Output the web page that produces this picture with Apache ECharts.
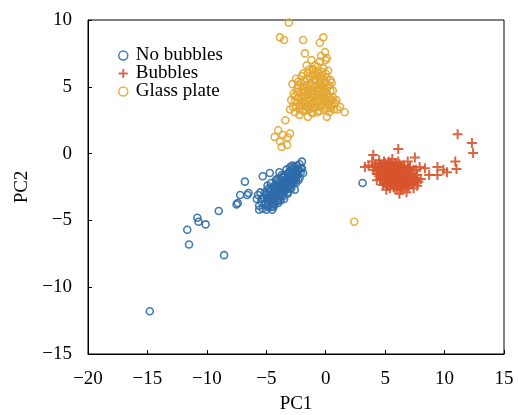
<!DOCTYPE html>
<html>
<head>
<meta charset="utf-8">
<script src="https://cdn.jsdelivr.net/npm/echarts@6/dist/echarts.min.js"></script>
<style>
  html, body { margin: 0; padding: 0; background: #fff; }
  #chart { width: 518px; height: 415px; }
</style>
</head>
<body>
<div id="chart"></div>
<script>
// 三组样本的主成分得分 [PC1, PC2]
const seriesNames = ['No bubbles', 'Bubbles', 'Glass plate']
const xTicks = [-20, -15, -10, -5, 0, 5, 10, 15]
const yTicks = [-15, -10, -5, 0, 5, 10]

// No bubbles: 密集的核心 + 离群点
const noBubblesCore = [
  [-5.6, -3.9], [-5.4, -3.6], [-5.3, -4.1], [-5.2, -3.3], [-5.1, -3.8], [-5.0, -4.2], [-4.9, -3.5],
  [-4.8, -3.1], [-4.8, -3.9], [-4.7, -2.8], [-4.6, -3.4], [-4.6, -4.0], [-4.5, -3.0], [-4.5, -3.7],
  [-4.4, -2.6], [-4.4, -3.3], [-4.3, -2.9], [-4.3, -3.8], [-4.2, -2.4], [-4.2, -3.2], [-4.1, -2.7],
  [-4.1, -3.5], [-4.0, -2.2], [-4.0, -3.0], [-3.9, -2.5], [-3.9, -3.3], [-3.8, -2.0], [-3.8, -2.8],
  [-3.7, -2.3], [-3.7, -3.1], [-3.6, -1.8], [-3.6, -2.6], [-3.5, -2.1], [-3.5, -2.9], [-3.4, -1.6],
  [-3.4, -2.4], [-3.3, -1.9], [-3.3, -2.7], [-3.2, -1.5], [-3.2, -2.2], [-3.1, -1.8], [-3.1, -2.5],
  [-3.0, -1.3], [-3.0, -2.0], [-2.9, -1.6], [-2.9, -2.3], [-2.8, -1.1], [-2.8, -1.9], [-2.7, -1.4],
  [-2.6, -1.0], [-2.6, -1.7], [-2.5, -1.3], [-2.4, -0.9], [-2.4, -1.6], [-2.3, -1.2], [-2.2, -0.8],
  [-2.1, -1.4], [-2.0, -0.6], [-1.9, -1.45], [-2.6, -2.7], [-2.8, -0.9], [-4.7, -1.45], [-5.3, -1.7],
  [-4.4, -4.0], [-5.8, -3.4], [-5.5, -2.9], [-3.0, -2.6], [-3.9, -1.4], [-4.1, -1.9], [-4.9, -2.4],
  [-5.1, -2.9], [-3.5, -3.4], [-4.0, -3.7], [-2.3, -2.0], [-2.0, -1.1], [-3.3, -1.2], [-4.6, -2.2],
  [-5.7, -3.1], [-5.0, -3.0], [-4.2, -2.0], [-3.7, -1.6], [-3.0, -1.0], [-2.7, -2.2], [-3.2, -3.0],
  [-3.8, -3.5], [-4.5, -4.2], [-5.6, -4.2], [-4.8, -2.6], [-3.6, -2.2], [-2.5, -1.9], [-4.3, -3.4],
  [-5.1, -3.7], [-4.9, -4.0], [-5.4, -3.4], [-4.7, -3.4], [-4.4, -3.8], [-5.0, -3.1], [-4.4, -3.5],
  [-4.0, -3.5], [-4.7, -2.7], [-4.3, -3.1], [-4.0, -3.1], [-4.3, -2.8], [-3.8, -2.6], [-3.6, -3.2],
  [-4.3, -2.4], [-3.6, -2.8], [-3.2, -2.9], [-4.0, -2.0], [-3.4, -2.3], [-3.3, -2.5], [-3.6, -2.1],
  [-3.2, -2.1], [-2.9, -2.6], [-3.6, -1.7], [-3.0, -1.9], [-2.8, -2.2], [-3.2, -1.8], [-2.8, -1.8],
  [-2.5, -2.2], [-3.1, -1.4], [-2.6, -1.6], [-2.5, -1.8], [-2.8, -1.4], [-2.4, -1.5], [-2.2, -1.8],
  [-2.7, -1.2], [-2.3, -1.3], [-2.1, -1.1], [-3.9, -2.8], [-4.2, -2.7], [-3.5, -2.6], [-3.0, -2.3],
  [-4.6, -3.2], [-4.9, -3.3], [-3.8, -2.3], [-3.4, -2.0], [-2.9, -2.0]
]
const noBubblesOut = [
  [-14.8, -11.8], [-8.55, -7.6], [-11.5, -6.8], [-11.65, -5.7], [-10.8, -4.8], [-10.7, -5.1],
  [-10.1, -5.3], [-9.0, -4.3], [-7.5, -3.8], [-7.2, -3.1], [-6.6, -3.1], [-6.8, -2.1], [-7.4, -3.7],
  [-6.5, -2.95], [3.1, -2.2]
]

// Bubbles
const bubblesCore = [
  [3.6, -0.9], [3.9, -0.6], [4.0, -1.2], [4.2, -0.8], [4.3, -1.5], [4.4, -1.0], [4.5, -0.5],
  [4.6, -1.3], [4.6, -1.9], [4.7, -0.9], [4.8, -1.6], [4.9, -1.1], [4.9, -2.2], [5.0, -0.7],
  [5.0, -1.4], [5.1, -1.8], [5.2, -1.0], [5.2, -2.4], [5.3, -1.5], [5.3, -0.6], [5.4, -2.0],
  [5.4, -1.2], [5.5, -1.7], [5.5, -0.9], [5.6, -2.3], [5.6, -1.4], [5.7, -1.0], [5.7, -1.9],
  [5.8, -2.6], [5.8, -1.5], [5.9, -0.8], [5.9, -2.1], [6.0, -1.2], [6.0, -1.7], [6.1, -2.4],
  [6.1, -0.6], [6.2, -1.4], [6.2, -2.0], [6.3, -1.0], [6.3, -2.7], [6.4, -1.6], [6.4, -2.2],
  [6.5, -1.2], [6.5, -1.9], [6.6, -2.5], [6.6, -0.9], [6.7, -1.5], [6.8, -2.1], [6.8, -2.9],
  [6.9, -1.3], [7.0, -1.8], [7.0, -2.4], [7.1, -1.0], [7.2, -2.0], [7.3, -1.5], [7.4, -2.6],
  [7.5, -1.8], [7.6, -1.2], [7.8, -2.1], [7.5, -0.3], [6.1, 0.35], [4.0, -0.1], [3.3, -1.0],
  [4.8, -2.35], [7.9, -1.0], [5.1, -2.7], [6.2, -3.0], [5.6, -0.4], [4.3, -2.0], [7.7, -2.4],
  [6.9, -0.6], [5.3, -2.0], [5.9, -1.3], [6.0, -2.2], [5.5, -1.1], [6.4, -1.0], [4.7, -1.6],
  [5.8, -1.8], [6.6, -1.7], [5.2, -1.3], [6.3, -2.3],
  [4.1, -1.0], [4.3, -1.3], [4.5, -1.7], [4.5, -0.8], [4.7, -1.2], [4.8, -2.0], [4.9, -0.6],
  [5.0, -1.6], [5.1, -1.1], [5.1, -2.1], [5.2, -0.8], [5.3, -1.8], [5.4, -1.4], [5.4, -2.6],
  [5.5, -0.7], [5.5, -2.1], [5.6, -1.7], [5.7, -1.2], [5.7, -2.5], [5.8, -0.9], [5.8, -2.0],
  [5.9, -1.6], [6.0, -1.0], [6.0, -2.6], [6.1, -1.4], [6.1, -1.9], [6.2, -0.8], [6.3, -1.7],
  [6.3, -1.2], [6.4, -2.5], [6.5, -1.5], [6.5, -2.1], [6.6, -1.1], [6.7, -1.9], [6.7, -2.3],
  [6.8, -1.4], [6.9, -1.7], [6.9, -2.6], [7.0, -1.1], [7.1, -2.1], [7.2, -1.6], [7.3, -2.3],
  [7.4, -1.2], [7.4, -1.9], [7.6, -2.0], [7.7, -1.6], [4.4, -1.5], [4.9, -1.3], [5.2, -1.6],
  [5.6, -1.1], [6.2, -1.6], [6.6, -1.4], [5.9, -2.4], [5.0, -1.9]
]
const bubblesOut = [
  [11.1, 1.45], [12.3, 0.8], [12.4, 0.05], [10.9, -0.6], [11.0, -1.15], [10.2, -1.4], [9.4, -1.0],
  [9.4, -1.6], [8.7, -1.6], [8.35, -1.1], [8.0, -1.9], [9.9, -1.2]
]

// Glass plate
const glassCore = [
  [-2.8, 5.2], [-2.7, 4.5], [-2.6, 3.9], [-2.5, 5.6], [-2.4, 4.9], [-2.3, 4.2], [-2.2, 3.6],
  [-2.1, 5.3], [-2.0, 4.6], [-1.9, 6.0], [-1.9, 3.9], [-1.8, 5.0], [-1.7, 4.3], [-1.7, 3.3],
  [-1.6, 5.6], [-1.5, 4.8], [-1.5, 3.7], [-1.4, 6.3], [-1.4, 4.1], [-1.3, 5.3], [-1.2, 4.5],
  [-1.2, 3.1], [-1.1, 5.9], [-1.1, 3.8], [-1.0, 5.0], [-1.0, 4.2], [-0.9, 6.6], [-0.9, 3.5],
  [-0.8, 5.5], [-0.8, 4.7], [-0.7, 6.1], [-0.7, 3.9], [-0.6, 5.2], [-0.6, 4.4], [-0.5, 6.9],
  [-0.5, 3.2], [-0.4, 5.8], [-0.4, 4.0], [-0.3, 5.0], [-0.3, 4.6], [-0.2, 6.4], [-0.2, 3.6],
  [-0.1, 5.4], [-0.1, 4.2], [0.0, 6.0], [0.0, 4.8], [0.1, 3.4], [0.1, 5.7], [0.2, 4.4],
  [0.3, 5.1], [0.3, 3.9], [0.4, 4.7], [0.5, 3.6], [0.6, 4.2], [0.7, 3.3], [0.8, 3.8], [1.0, 3.3],
  [-2.9, 4.0], [-3.0, 3.3], [-2.6, 3.1], [-2.2, 2.9], [-1.6, 6.6], [-1.2, 7.0], [-0.4, 7.3],
  [0.0, 7.0], [-2.0, 5.8], [-1.3, 3.5], [-0.7, 5.8], [-1.8, 4.6], [-2.4, 3.8], [-0.2, 5.6],
  [-1.0, 6.3], [0.5, 5.3], [-1.6, 4.0], [-2.3, 5.1], [-0.5, 4.9], [-1.1, 4.7], [0.2, 6.2],
  [-2.6, 4.3], [-2.5, 3.5], [-2.4, 4.6], [-2.3, 5.4], [-2.2, 3.3], [-2.1, 4.0], [-2.0, 5.0],
  [-1.9, 4.3], [-1.9, 3.2], [-1.8, 5.4], [-1.8, 3.8], [-1.7, 4.7], [-1.6, 3.5], [-1.6, 5.1],
  [-1.5, 4.4], [-1.5, 6.0], [-1.4, 3.3], [-1.4, 4.8], [-1.3, 5.7], [-1.3, 4.0], [-1.2, 5.1],
  [-1.2, 3.7], [-1.1, 4.4], [-1.1, 6.3], [-1.0, 3.4], [-1.0, 5.5], [-0.9, 4.5], [-0.9, 5.9],
  [-0.8, 3.7], [-0.8, 5.1], [-0.7, 4.3], [-0.7, 6.5], [-0.6, 3.5], [-0.6, 4.8], [-0.5, 5.5],
  [-0.5, 4.1], [-0.4, 3.6], [-0.4, 5.2], [-0.3, 4.3], [-0.3, 6.1], [-0.2, 3.9], [-0.2, 5.0],
  [-0.1, 4.6], [-0.1, 3.3], [0.0, 5.3], [0.0, 4.0], [0.1, 4.5], [0.2, 3.7], [0.2, 5.0],
  [0.3, 4.2], [0.4, 3.4], [0.4, 5.5], [0.5, 4.0], [0.6, 4.7], [0.7, 3.7], [0.9, 4.0],
  [-1.1, 3.0], [-0.7, 3.1], [0.3, 3.1], [-2.0, 3.6]
]
const glassOut = [
  [-3.1, 9.8], [-3.85, 8.7], [-3.5, 8.5], [-1.9, 8.5], [-0.2, 8.7], [-0.5, 8.3], [-1.75, 7.5],
  [-0.06, 7.6], [0.1, 7.15], [1.6, 3.1], [1.2, 3.5], [-2.75, 3.5], [-1.5, 2.75], [0.1, 2.75],
  [-3.4, 2.5], [-4.0, 1.75], [-4.3, 1.25], [-3.6, 1.4], [-3.2, 1.2], [-3.85, 0.9], [-3.25, 0.65],
  [-3.7, 0.5], [-3.0, 1.5], [2.4, -5.1]
]

const colors = ['#2d6ca8', '#d7542c', '#e2a734']
const plusIcon = 'path://M4,0H6V4H10V6H6V10H4V6H0V4H4Z'
const serif = '"Liberation Serif", "Times New Roman", serif'

function minus (v) {
  return String(v).replace('-', '\u2212')
}

function hollow (name, data, color) {
  return {
    name: name,
    type: 'scatter',
    data: data,
    symbol: 'circle',
    symbolSize: 7,
    itemStyle: { color: 'rgba(0,0,0,0)', borderColor: color, borderWidth: 1.6, opacity: 0.9 }
  }
}

const chart = echarts.init(document.getElementById('chart'))
chart.setOption({
  animation: false,
  textStyle: { fontFamily: serif },
  // 关掉 v6 的 outerBounds 自动收缩，网格按像素固定
  grid: {
    left: 88, right: 14, top: 20, bottom: 61,
    containLabel: false, outerBoundsMode: 'none',
    show: true, borderColor: '#000', borderWidth: 1
  },
  legend: {
    orient: 'vertical',
    left: 113,
    top: 41,
    itemWidth: 9,
    itemHeight: 9,
    itemGap: -1,
    textStyle: { fontFamily: serif, fontSize: 19, color: '#000', lineHeight: 17, padding: [0, 0, 0, 3] },
    data: [
      { name: seriesNames[0], icon: 'circle', itemStyle: { color: 'rgba(0,0,0,0)', borderColor: colors[0], borderWidth: 1.5 } },
      { name: seriesNames[1], icon: plusIcon, itemStyle: { color: colors[1], borderWidth: 0 } },
      { name: seriesNames[2], icon: 'circle', itemStyle: { color: 'rgba(0,0,0,0)', borderColor: colors[2], borderWidth: 1.5 } }
    ]
  },
  xAxis: {
    type: 'value',
    min: xTicks[0],
    max: xTicks[xTicks.length - 1],
    interval: 5,
    name: 'PC1',
    nameLocation: 'middle',
    nameGap: 41,
    nameTextStyle: { fontFamily: serif, fontSize: 19, color: '#000' },
    axisLine: { onZero: false, lineStyle: { color: '#000', width: 1 } },
    axisTick: { inside: true, length: 4, lineStyle: { color: '#000' } },
    axisLabel: { fontFamily: serif, fontSize: 19, color: '#000', margin: 16, formatter: minus },
    splitLine: { show: false }
  },
  yAxis: {
    type: 'value',
    min: yTicks[0],
    max: yTicks[yTicks.length - 1],
    interval: 5,
    name: 'PC2',
    nameLocation: 'middle',
    nameGap: 56,
    nameTextStyle: { fontFamily: serif, fontSize: 19, color: '#000' },
    axisLine: { onZero: false, lineStyle: { color: '#000', width: 1 } },
    axisTick: { inside: true, length: 4, lineStyle: { color: '#000' } },
    axisLabel: { fontFamily: serif, fontSize: 19, color: '#000', margin: 16, formatter: minus },
    splitLine: { show: false }
  },
  series: [
    hollow(seriesNames[0], noBubblesCore.concat(noBubblesOut), colors[0]),
    {
      name: seriesNames[1],
      type: 'scatter',
      data: bubblesCore.concat(bubblesOut),
      symbol: plusIcon,
      symbolSize: 10,
      itemStyle: { color: colors[1], opacity: 0.9 }
    },
    hollow(seriesNames[2], glassCore.concat(glassOut), colors[2])
  ]
})
</script>
</body>
</html>
